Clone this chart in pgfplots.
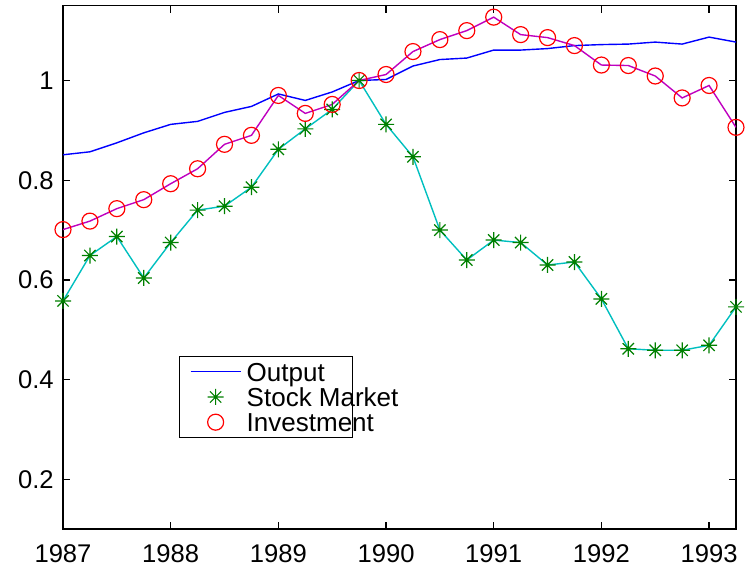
\documentclass[border=0pt]{standalone}
\usepackage{fontspec}
\setmainfont{Liberation Sans}
\usepackage{pgfplots}
\pgfplotsset{compat=1.18}
\definecolor{mblue}{rgb}{0,0,1}
\definecolor{mcyan}{rgb}{0,0.75,0.75}
\definecolor{mgreen}{rgb}{0,0.5,0}
\definecolor{mmag}{rgb}{0.75,0,0.75}
\definecolor{mred}{rgb}{1,0,0}
\pgfdeclareplotmark{mstar}{%
  \pgfpathmoveto{\pgfqpoint{0pt}{\pgfplotmarksize}}\pgfpathlineto{\pgfqpoint{0pt}{-\pgfplotmarksize}}%
  \pgfpathmoveto{\pgfqpoint{\pgfplotmarksize}{0pt}}\pgfpathlineto{\pgfqpoint{-\pgfplotmarksize}{0pt}}%
  \pgfpathmoveto{\pgfqpoint{0.707\pgfplotmarksize}{0.707\pgfplotmarksize}}\pgfpathlineto{\pgfqpoint{-0.707\pgfplotmarksize}{-0.707\pgfplotmarksize}}%
  \pgfpathmoveto{\pgfqpoint{0.707\pgfplotmarksize}{-0.707\pgfplotmarksize}}\pgfpathlineto{\pgfqpoint{-0.707\pgfplotmarksize}{0.707\pgfplotmarksize}}%
  \pgfusepathqstroke}
\pgfplotstableread{
x out stock inv
1987.00 0.851 0.558 0.701
1987.25 0.857 0.649 0.718
1987.50 0.875 0.687 0.743
1987.75 0.895 0.604 0.761
1988.00 0.912 0.675 0.793
1988.25 0.918 0.740 0.823
1988.50 0.936 0.748 0.872
1988.75 0.948 0.786 0.890
1989.00 0.973 0.862 0.970
1989.25 0.960 0.903 0.934
1989.50 0.977 0.942 0.952
1989.75 1.000 1.000 1.000
1990.00 1.002 0.912 1.012
1990.25 1.029 0.847 1.058
1990.50 1.042 0.700 1.082
1990.75 1.045 0.640 1.100
1991.00 1.061 0.680 1.127
1991.25 1.061 0.675 1.092
1991.50 1.064 0.630 1.086
1991.75 1.070 0.636 1.070
1992.00 1.072 0.562 1.031
1992.25 1.073 0.462 1.030
1992.50 1.077 0.459 1.009
1992.75 1.073 0.459 0.965
1993.00 1.087 0.469 0.990
1993.25 1.077 0.546 0.906
}\datatable
\newcommand{\legtxt}[1]{\makebox[45pt][l]{#1}}
\begin{document}
\fontsize{13}{15}\selectfont
\begin{tikzpicture}
\useasboundingbox (0,0) rectangle (375.5pt,285.5pt);
\begin{axis}[
  at={(31.5pt,20.85pt)}, anchor=south west,
  scale only axis, width=336.5pt, height=261.8pt,
  xmin=1987, xmax=1993.25, ymin=0.1, ymax=1.15,
  xtick={1987,1988,1989,1990,1991,1992,1993},
  xticklabels={1987,1988,1989,1990,1991,1992,1993},
  ytick={0.2,0.4,0.6,0.8,1},
  yticklabels={0.2,0.4,0.6,0.8,1},
  tick align=inside, tick pos=both,
  major tick length=3.5pt,
  every tick/.style={black, line width=0.6pt},
  axis line style={line width=0.8pt},
  ticklabel style={font=\fontsize{12.8}{15}\selectfont},
  xticklabel style={yshift=-3.1pt},
  yticklabel style={xshift=-0.1pt},
  legend style={at={(rel axis cs:0.173,0.331)}, anchor=north west,
    draw=black, line width=0.5pt, font=\fontsize{13}{13}\selectfont,
    inner xsep=5pt, inner ysep=3pt, row sep=3.3pt,
    nodes={text height=9.3pt, text depth=0pt, inner ysep=0pt, inner xsep=2.7pt}},
  legend cell align=left,
  legend image code/.code={\draw[mark repeat=2,mark phase=2,#1] plot coordinates {(0pt,0pt) (12.5pt,0pt) (25pt,0pt)};},
]
\addplot[mblue, line width=0.7pt, no marks] table[x=x,y=out] {\datatable};
\addlegendentry{\legtxt{Output}}
\addplot[only marks, mark=mstar, mark size=4pt, mgreen, mark options={line width=0.6pt}] table[x=x,y=stock] {\datatable};
\addlegendentry{\legtxt{Stock Market}}
\addplot[only marks, mark=o, mark size=4pt, mred, mark options={line width=0.6pt}] table[x=x,y=inv] {\datatable};
\addlegendentry{\legtxt{Investment}}
\addplot[forget plot, mcyan, line width=0.7pt, no marks] table[x=x,y=stock] {\datatable};
\addplot[forget plot, mmag, line width=0.7pt, no marks] table[x=x,y=inv] {\datatable};
\end{axis}
\end{tikzpicture}
\end{document}
